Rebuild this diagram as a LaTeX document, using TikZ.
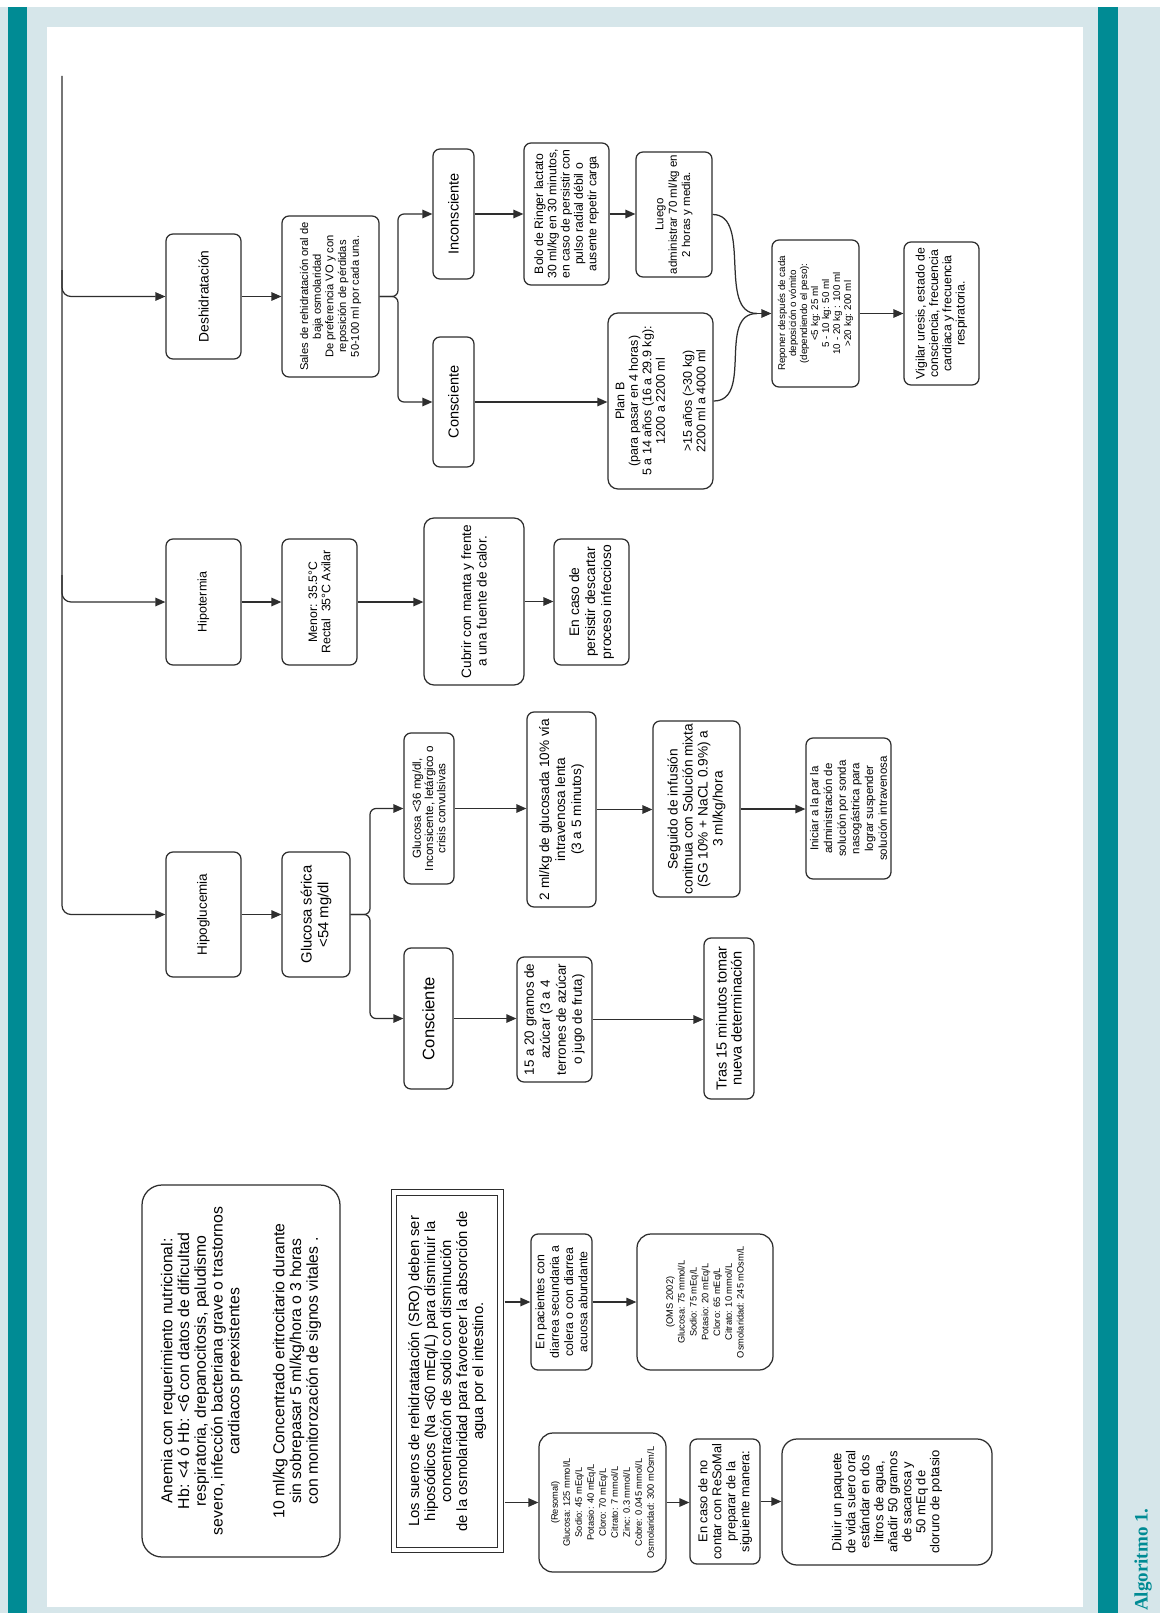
\documentclass[tikz,border=0pt]{standalone}
\usepackage{fontspec}
\setmainfont{Liberation Sans}
\newfontfamily\serifb{Liberation Serif}
\usetikzlibrary{arrows.meta}
\definecolor{teal1}{HTML}{008B94}
\definecolor{lblue}{HTML}{D6E6EA}
\definecolor{linec}{HTML}{2E2E2E}
\newcommand{\fsz}[2]{\fontsize{#1}{#2}\selectfont}
\begin{document}
\begin{tikzpicture}[x=1pt,y=-1pt,
  bx/.style={draw=linec, line width=1.25pt, rounded corners=7pt, fill=white, rotate=90, align=center, inner sep=0pt},
  arr/.style={draw=linec, line width=1.25pt, -{Triangle[length=10pt,width=8.5pt]}},
  ln/.style={draw=linec, line width=1.25pt}]
\useasboundingbox (0,0) rectangle (1160,1613);
% frame
\fill[white] (0,0) rectangle (1160,1613);
\fill[lblue] (0,7) rectangle (1160,1613);
\fill[white] (47,27) rectangle (1083,1607);
\fill[teal1] (8,7) rectangle (27,1613);
\fill[teal1] (1098,7) rectangle (1118,1613);
\node[rotate=90, anchor=west, font=\serifb\bfseries\fsz{19}{21}, text=teal1, inner sep=0pt] (alg) at (1143,1611) {Algoritmo 1.};

% Deshidratacion branch
\node[bx, minimum width=125pt, minimum height=75pt, font=\fsz{13.8}{16}] (desh) at (203.5,296.5) {Deshidratación};
\node[bx, minimum width=161pt, minimum height=97pt, font=\fsz{11.2}{12.7}] (sales) at (330.5,296.5) {Sales de rehidratación oral de\\baja osmolaridad\\De preferencia VO y con\\reposición de pérdidas\\50-100 ml por cada una.};
\node[bx, minimum width=130pt, minimum height=41pt, font=\fsz{14.5}{16}] (incons) at (453.5,214) {Inconsciente};
\node[bx, minimum width=130pt, minimum height=41pt, font=\fsz{14.5}{16}] (consD) at (453.5,402) {Consciente};
\node[bx, minimum width=142pt, minimum height=85pt, font=\fsz{12.2}{13.3}] (bolo) at (566.5,214) {Bolo de Ringer lactato\\30 ml/kg en 30 minutos,\\en caso de persistir con\\pulso radial débil o\\ausente repetir carga};
\node[bx, minimum width=125pt, minimum height=76pt, font=\fsz{11.5}{13.3}] (luego) at (674,214.5) {Luego\\administrar 70 ml/kg en\\2 horas y media.};
\node[bx, rounded corners=10pt, minimum width=176pt, minimum height=105pt, font=\fsz{12.5}{13.5}] (planb) at (660.5,401) {Plan B\\(para pasar en 4 horas)\\5 a 14 años (16 a 29.9 kg):\\1200 a 2200 ml\\[13.5pt]>15 años (>30 kg)\\2200 ml a 4000 ml};
\node[bx, minimum width=147pt, minimum height=87pt, font=\fsz{9.8}{11}] (repon) at (815.5,313.5) {Reponer después de cada\\deposición o vómito\\(dependiendo el peso):\\<5 kg: 25 ml\\5 - 10 kg: 50 ml\\10 - 20 kg : 100 ml\\>20 kg: 200 ml};
\node[bx, minimum width=143pt, minimum height=75pt, font=\fsz{12.3}{13.3}] (vigil) at (941.5,313.5) {Vigilar uresis, estado de\\consciencia, frecuencia\\cardiaca y frecuencia\\respiratoria.};

% Hipotermia branch
\node[bx, minimum width=126pt, minimum height=75pt, font=\fsz{12.5}{14}] (hipot) at (203.5,602) {Hipotermia};
\node[bx, minimum width=126pt, minimum height=75pt, font=\fsz{12.3}{13.3}] (menor) at (319.5,602) {Menor: 35.5°C\\Rectal\ \ 35°C Axilar};
\node[bx, rounded corners=10pt, minimum width=167pt, minimum height=100pt, font=\fsz{13.6}{15.5}] (cubrir) at (474,601.5) {Cubrir con manta y frente\\a una fuente de calor.};
\node[bx, minimum width=126pt, minimum height=75pt, font=\fsz{13.8}{16}] (persist) at (591.5,602) {En caso de\\persistir descartar\\proceso infeccioso};

% Hipoglucemia branch
\node[bx, minimum width=125pt, minimum height=75pt, font=\fsz{13.5}{16}] (hipog) at (203.5,914.5) {Hipoglucemia};
\node[bx, minimum width=125pt, minimum height=68pt, font=\fsz{14.8}{16.7}] (glus) at (316,914.5) {Glucosa sérica\\<54 mg/dl};
\node[bx, minimum width=151pt, minimum height=50pt, font=\fsz{11.6}{12.2}] (glu36) at (429,808.5) {Glucosa <36 mg/dl,\\Inconsicente, letárgico o\\crisis convulsivas};
\node[bx, minimum width=141pt, minimum height=49pt, font=\fsz{16.6}{18}] (consH) at (428.5,1018.5) {Consciente};
\node[bx, minimum width=195pt, minimum height=69pt, font=\fsz{13.6}{16}] (dosml) at (561.5,809.5) {2 ml/kg de glucosada 10\% vía\\intravenosa lenta\\(3 a 5 minutos)};
\node[bx, minimum width=125pt, minimum height=75pt, font=\fsz{13.4}{16}] (quince) at (554.5,1019.5) {15 a 20 gramos de\\azúcar (3 a 4\\terrones de azúcar\\o jugo de fruta)};
\node[bx, minimum width=176pt, minimum height=87pt, font=\fsz{13.7}{15}] (seguido) at (696.5,809) {Seguido de infusión\\conitnua con Solución mixta\\(SG 10\% + NaCL 0.9\%) a\\3 ml/kg/hora};
\node[bx, minimum width=141pt, minimum height=85pt, font=\fsz{11.5}{13.7}] (iniciar) at (848.5,808.5) {Iniciar a la par la\\administración de\\solución por sonda\\nasogástrica para\\lograr suspender\\solución intravenosa};
\node[bx, minimum width=161pt, minimum height=50pt, font=\fsz{14.5}{15}] (tras) at (729,1018.5) {Tras 15 minutos tomar\\nueva determinación};

% Bottom section
\node[bx, rounded corners=20pt, minimum width=372pt, minimum height=198pt, font=\fsz{15.8}{16.8}] (anemia) at (241,1371) {Anemia con requerimiento nutricional:\\Hb: <4 ó Hb: <6 con datos de dificultad\\respiratoria, drepanocitosis, paludismo\\severo, infección bacteriana grave o trastornos\\cardiacos preexistentes\\[28pt]10 ml/kg Concentrado eritrocitario durante\\sin sobrepasar 5 ml/kg/hora o 3 horas\\con monitorozación de signos vitales .};
\node[bx, rounded corners=0pt, double, double distance=4.5pt, line width=1.1pt, minimum width=357.5pt, minimum height=106.5pt, font=\fsz{14.8}{16}] (sro) at (447.25,1371.25) {Los sueros de rehidratatación (SRO) deben ser\\hiposódicos (Na <60 mEq/L) para disminuir la\\concentración de sodio con disminución\\de la osmolaridad para favorecer la absorción de\\agua por el intestino.};
\node[bx, minimum width=136pt, minimum height=61pt, font=\fsz{12.3}{14.3}] (enpac) at (561.5,1302) {En pacientes con\\diarrea secundaria a\\colera o con diarrea\\acuosa abundante};
\node[bx, rounded corners=14pt, minimum width=136pt, minimum height=136pt, font=\fsz{9.3}{11.8}] (oms) at (705,1302) {(OMS 2002)\\Glucosa: 75 mmol/L\\Sodio: 75 mEq/L\\Potasio: 20 mEq/L\\Cloro: 65 mEq/L\\Citrato: 10 mmol/L\\Osmolaridad: 245 mOsm/L};
\node[bx, rounded corners=14pt, minimum width=139pt, minimum height=127pt, font=\fsz{9.3}{12}] (resomal) at (602.5,1502.5) {(Resomal)\\Glucosa: 125 mmol/L\\Sodio: 45 mEq/L\\Potasio: 40 mEq/L\\Cloro: 70 mEq/L\\Citrato: 7 mmol/L\\Zinc: 0.3 mmol/L\\Cobre: 0.045 mmol/L\\Osmolaridad: 300 mOsm/L};
\node[bx, minimum width=125pt, minimum height=70pt, font=\fsz{12.8}{14}] (encaso) at (725,1501.5) {En caso de no\\contar con ReSoMal\\preparar de la\\siguiente manera:};
\node[bx, rounded corners=15pt, minimum width=126pt, minimum height=210pt, font=\fsz{13}{14}] (diluir) at (887,1502) {Diluir un paquete\\de vida suero oral\\estándar en dos\\litros de agua,\\añadir 50 gramos\\de sacarosa y\\50 mEq de\\cloruro de potasio};

% connectors: trunk
\coordinate (t0) at (62,76);
\coordinate (tD) at (62,270);
\coordinate (tH) at (62,575);
\draw[arr, rounded corners=9pt] (t0) |- (hipog.north);
\draw[arr, rounded corners=9pt] (tD) |- (desh.north);
\draw[arr, rounded corners=9pt] (tH) |- (hipot.north);

% Deshidratacion connectors
\draw[arr] (desh.south) -- (desh.south -| sales.north);
\coordinate (sb) at (398,296.5);
\draw[arr, rounded corners=6pt] (sales.south) -- (sb) |- (incons.north);
\draw[arr, rounded corners=6pt] (sales.south) -- (sb) |- (consD.north);
\draw[arr] (incons.south) -- (incons.south -| bolo.north);
\draw[arr] (bolo.south) -- (bolo.south -| luego.north);
\draw[arr] (consD.south) -- (consD.south -| planb.north);
\coordinate (rm) at (757,313.5);
\draw[ln] (luego.south) .. controls +(40,0) and +(-40,0) .. (rm);
\draw[ln] (planb.south) .. controls +(40,0) and +(-40,0) .. (rm);
\draw[arr] (rm) -- (repon.north);
\draw[arr] (repon.south) -- (repon.south -| vigil.north);

% Hipotermia connectors
\draw[arr] (hipot.south) -- (hipot.south -| menor.north);
\draw[arr] (menor.south) -- (menor.south -| cubrir.north);
\draw[arr] (cubrir.south) -- (cubrir.south -| persist.north);

% Hipoglucemia connectors
\draw[arr] (hipog.south) -- (hipog.south -| glus.north);
\coordinate (gb) at (370,914.5);
\draw[arr, rounded corners=6pt] (glus.south) -- (gb) |- (glu36.north);
\draw[arr, rounded corners=6pt] (glus.south) -- (gb) |- (consH.north);
\draw[arr] (glu36.south) -- (glu36.south -| dosml.north);
\draw[arr] (dosml.south) -- (dosml.south -| seguido.north);
\draw[arr] (seguido.south) -- (seguido.south -| iniciar.north);
\draw[arr] (consH.south) -- (consH.south -| quince.north);
\draw[arr] (quince.south) -- (quince.south -| tras.north);

% bottom connectors
\draw[arr] ([xshift=3.5pt]sro.south |- enpac.north) -- (enpac.north);
\draw[arr] (enpac.south) -- (enpac.south -| oms.north);
\draw[arr] ([xshift=3.5pt]sro.south |- resomal.north) -- (resomal.north);
\draw[arr] (resomal.south) -- (resomal.south -| encaso.north);
\draw[arr] (encaso.south) -- (encaso.south -| diluir.north);
\end{tikzpicture}
\end{document}
